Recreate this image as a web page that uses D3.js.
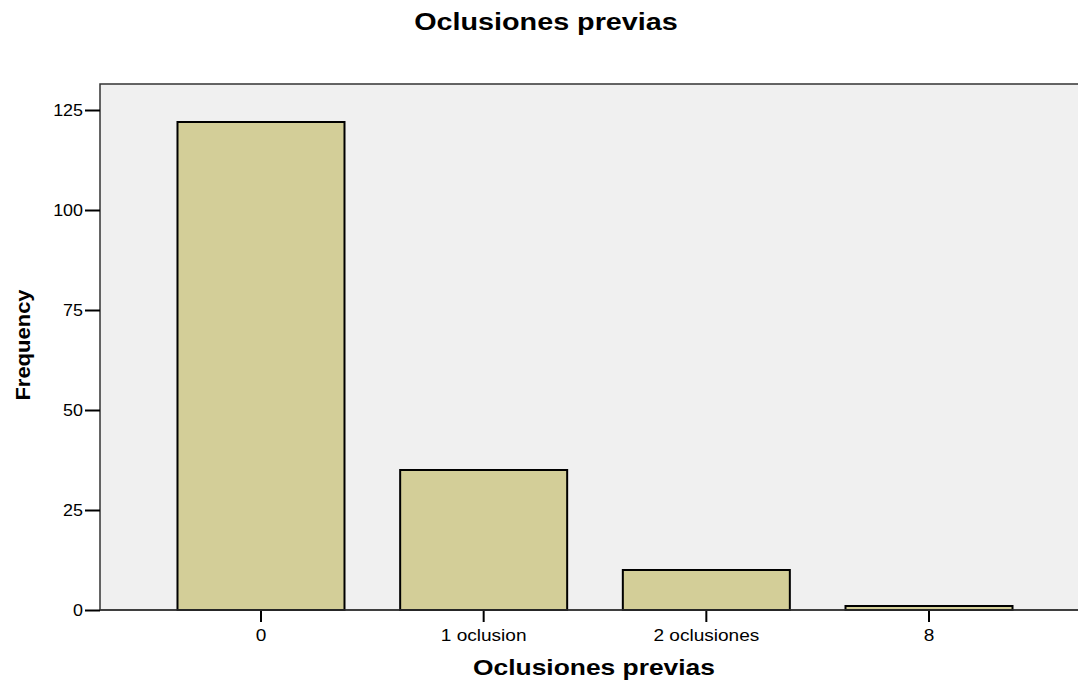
<!DOCTYPE html>
<html><head><meta charset="utf-8">
<script src="https://cdn.jsdelivr.net/npm/d3@7"></script>
<style>body{margin:0;background:#fff}svg{display:block}text{font-family:Arial,"Liberation Sans",sans-serif}</style>
</head><body><svg id="c" width="1078" height="683"></svg>
<script>
const categories = ["0", "1 oclusion", "2 oclusiones", "8"];
const frequencies = [122, 35, 10, 1];
const yTicks = [0, 25, 50, 75, 100, 125];

const svg = d3.select("#c");
const L = 100, R = 1090, T = 84, B = 610;
const x = d3.scaleBand().domain(categories).range([L, R]).paddingInner(0.25).paddingOuter(0.348);
const y = d3.scaleLinear().domain([0, 131.5]).range([B, T]);
const FF = "Arial, 'Liberation Sans', sans-serif";

function stretchedText(g, tx, ty, sx, size, str) {
  return g.append("text").attr("transform", `translate(${tx},${ty}) scale(${sx},1)`)
    .attr("text-anchor", "middle").attr("font-size", size).attr("font-weight", "bold")
    .attr("font-family", FF).text(str);
}

stretchedText(svg, 546, 30, 1.25, 23, "Oclusiones previas");

svg.append("rect").attr("x", L).attr("y", T).attr("width", R - L).attr("height", B - T)
  .attr("fill", "#f0f0f0").attr("stroke", "#333").attr("stroke-width", 1.5);

svg.selectAll("rect.bar").data(frequencies).join("rect").attr("class", "bar")
  .attr("x", (d, i) => x(categories[i])).attr("width", x.bandwidth())
  .attr("y", d => y(d)).attr("height", d => y(0) - y(d))
  .attr("fill", "#d3ce98").attr("stroke", "#000").attr("stroke-width", 2);

const sy = 1.12;
const ya = svg.append("g").attr("transform", `translate(${L},0)`)
  .call(d3.axisLeft(y).tickValues(yTicks).tickSize(15).tickPadding(2));
ya.select(".domain").remove();
ya.selectAll("line").attr("stroke", "#000").attr("stroke-width", 2);
ya.selectAll("text").attr("font-size", 16).attr("fill", "#000").attr("font-family", FF)
  .attr("x", -17 / sy).attr("transform", `scale(${sy},1)`);

const sxb = 1.19;
const xa = svg.append("g").attr("transform", `translate(0,${B})`)
  .call(d3.axisBottom(x).tickSize(12).tickPadding(8));
xa.select(".domain").remove();
xa.selectAll("line").attr("stroke", "#000").attr("stroke-width", 2);
xa.selectAll("text").attr("font-size", 16).attr("fill", "#000").attr("font-family", FF)
  .attr("transform", `scale(${sxb},1)`);

svg.append("line").attr("x1", L).attr("x2", R).attr("y1", B).attr("y2", B).attr("stroke", "#333").attr("stroke-width", 1.5);

stretchedText(svg, 594, 675, 1.2, 22, "Oclusiones previas");
svg.append("text").attr("transform", "translate(30,345) rotate(-90) scale(1.1,1)").attr("text-anchor", "middle")
  .attr("font-size", 20).attr("font-weight", "bold").attr("font-family", FF).text("Frequency");
</script></body></html>
